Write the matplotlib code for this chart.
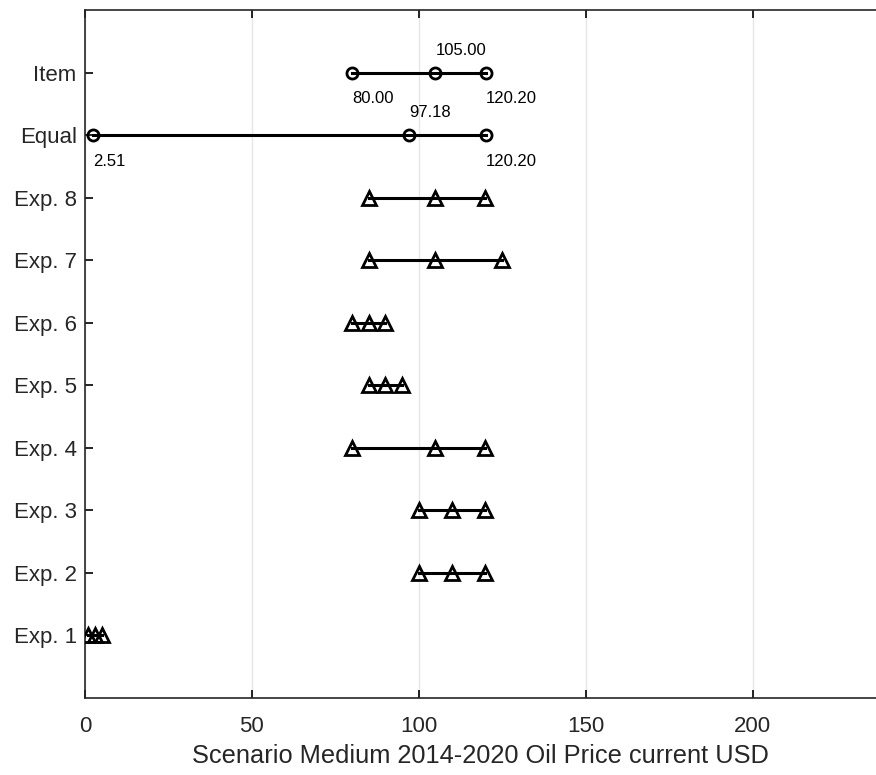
import numpy as np
import matplotlib
matplotlib.use('Agg')
import matplotlib.pyplot as plt

plt.rcParams['font.family'] = ['Liberation Sans', 'DejaVu Sans']

labels = ['Exp. 1', 'Exp. 2', 'Exp. 3', 'Exp. 4', 'Exp. 5', 'Exp. 6', 'Exp. 7', 'Exp. 8', 'Equal', 'Item']
low = [1.0, 100, 100, 80, 85, 80, 85, 85, 2.51, 80.00]
mid = [3.0, 110, 110, 105, 90, 85, 105, 105, 97.18, 105.00]
high = [5.0, 120, 120, 120, 95, 90, 125, 120, 120.20, 120.20]
markers = ['^'] * 8 + ['o', 'o']

dpi = 100
fig = plt.figure(figsize=(876 / dpi, 775 / dpi), dpi=dpi)
ax = fig.add_axes([0.097, 0.0994, 0.903, 0.8877])

ys = np.arange(1, len(labels) + 1)
for y, lo, mi, hi, m in zip(ys, low, mid, high, markers):
	ax.plot([lo, mi, hi], [y, y, y], color='black', lw=2.2, marker=m,
			ms=10 if m == '^' else 8, mfc='none', mec='black', mew=2, zorder=3)
	if m == 'o':
		ax.annotate('%.2f' % mi, (mi, y), xytext=(0, 16), textcoords='offset points',
					ha='left', va='center', fontsize=12)
		ax.annotate('%.2f' % lo, (lo, y), xytext=(0, -19), textcoords='offset points',
					ha='left', va='center', fontsize=12)
		ax.annotate('%.2f' % hi, (hi, y), xytext=(0, -19), textcoords='offset points',
					ha='left', va='center', fontsize=12)

ax.set_xlim(0, 237)
ax.set_ylim(0, 11)
ax.set_yticks(ys)
ax.set_yticklabels(labels, fontsize=16)
ax.set_xticks([0, 50, 100, 150, 200])
ax.tick_params(axis='x', labelsize=16, direction='in', top=True, length=6, width=1.2, pad=13,
			   labelcolor='#262626')
ax.tick_params(axis='y', direction='in', length=6, width=1.2, pad=6, labelcolor='#262626')
ax.set_xlabel('Scenario Medium 2014-2020 Oil Price current USD', fontsize=18.3, labelpad=5,
			  color='#262626')
ax.grid(axis='x', color='#e6e6e6', lw=1)
ax.set_axisbelow(True)
ax.spines['right'].set_visible(False)
for s in ['left', 'top', 'bottom']:
	ax.spines[s].set_linewidth(1.2)
	ax.spines[s].set_color('#262626')

fig.savefig('out.png', dpi=dpi)
